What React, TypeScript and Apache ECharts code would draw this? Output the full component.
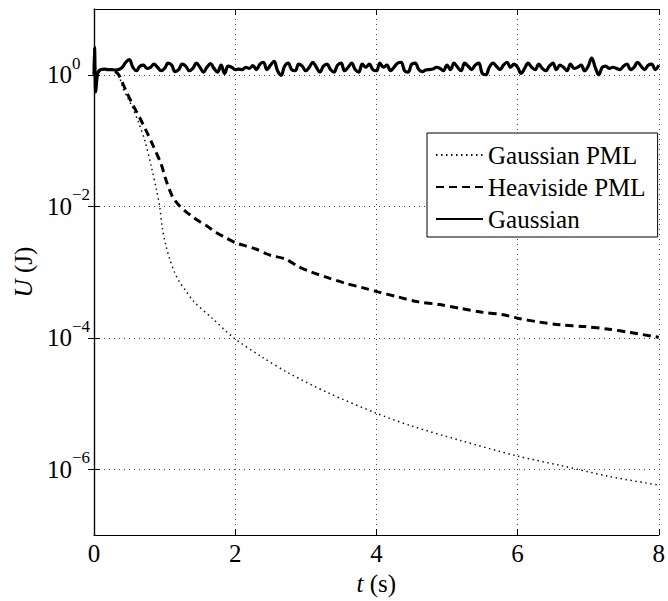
import React, { useEffect, useRef } from "react";
import * as echarts from "echarts";

const FONT = "Liberation Serif";

// x ticks and y decade ticks
const xTicks = [0, 2, 4, 6, 8];
const yTickValues = [1e-6, 1e-4, 1e-2, 1];

// Gaussian PML (dotted): [t, U]
const gaussianPML: [number, number][] = [
  [0.3, 1.12], [0.35, 1.0], [0.41, 0.62], [0.48, 0.44], [0.55, 0.31], [0.63, 0.19],
  [0.72, 0.1], [0.815, 0.039], [0.885, 0.0178], [0.93, 0.01], [0.97, 0.0045],
  [1.02, 0.0025], [1.07, 0.0016], [1.14, 0.001], [1.21, 7.1e-4], [1.3, 5.2e-4],
  [1.42, 3.5e-4], [1.67, 2.0e-4], [1.98, 1.0e-4], [2.38, 5.1e-5], [2.76, 2.9e-5],
  [3.32, 1.45e-5], [3.99, 7.2e-6], [4.49, 4.6e-6], [5.19, 2.75e-6], [5.99, 1.6e-6],
  [6.6, 1.15e-6], [7.3, 7.8e-7], [8.0, 5.75e-7],
];

// Heaviside PML (dashed): [t, U]
const heavisidePML: [number, number][] = [
  [0.3, 1.12], [0.35, 1.0], [0.46, 0.55], [0.55, 0.35], [0.65, 0.22], [0.74, 0.14],
  [0.83, 0.087], [0.95, 0.044], [1.02, 0.025], [1.07, 0.0178], [1.12, 0.0135],
  [1.2, 0.0105], [1.3, 0.0083], [1.4, 0.0069], [1.49, 0.0059], [1.6, 0.005],
  [1.73, 0.004], [1.85, 0.0034], [2.0, 0.0028], [2.15, 0.0025], [2.29, 0.00224],
  [2.5, 0.0018], [2.71, 0.00158], [2.9, 0.0012], [3.08, 0.001], [3.3, 8.3e-4],
  [3.55, 6.8e-4], [3.8, 5.8e-4], [4.02, 5.0e-4], [4.3, 4.2e-4], [4.58, 3.55e-4],
  [4.9, 3.2e-4], [5.19, 2.8e-4], [5.5, 2.45e-4], [5.8, 2.24e-4], [5.99, 2.0e-4],
  [6.3, 1.74e-4], [6.6, 1.58e-4], [6.95, 1.48e-4], [7.3, 1.35e-4], [7.6, 1.2e-4],
  [8.0, 1.02e-4],
];

// Gaussian (solid): initial transient [t, U]
const gaussianStart: [number, number][] = [
  [0, 1.0], [0.008, 2.6], [0.016, 1.0], [0.024, 0.55], [0.04, 0.85], [0.06, 1.1],
  [0.1, 1.2], [0.15, 1.22], [0.2, 1.2], [0.25, 1.2], [0.3, 1.18],
];
// Gaussian (solid): sampled every 0.05 s from t = 0.35 to 8.0
const gaussianT0 = 0.35;
const gaussianStep = 0.05;
const gaussianU: number[] = [
  1.2, 1.3, 1.55, 1.7, 1.3, 1.15, 1.35, 1.4, 1.25, 1.3, 1.45, 1.3, 1.15, 1.25, 1.5, 1.4, 1.12, 1.2, 1.45, 1.35,
  1.15, 1.25, 1.5, 1.3, 1.1, 1.3, 1.48, 1.25, 1.1, 1.4, 1.05, 1.35, 1.3, 1.2, 1.22, 1.2, 1.3, 1.25, 1.38, 1.2,
  1.45, 1.55, 1.2, 1.4, 1.6, 1.15, 0.98, 1.35, 1.5, 1.2, 1.15, 1.45, 1.35, 1.15, 1.3, 1.55, 1.3, 1.1, 1.35, 1.45,
  1.2, 1.1, 1.4, 1.5, 1.15, 1.3, 1.5, 1.2, 1.1, 1.45, 1.3, 1.45, 1.2, 1.15, 1.5, 1.3, 1.4, 1.15, 1.3, 1.5,
  1.55, 1.15, 1.1, 1.45, 1.5, 1.2, 1.12, 1.18, 1.2, 1.22, 1.3, 1.25, 1.15, 1.4, 1.2, 1.5, 1.3, 1.15, 1.5, 1.35,
  1.2, 1.4, 1.5, 1.05, 1.0, 1.3, 1.5, 1.35, 1.2, 1.4, 1.55, 1.3, 1.45, 1.3, 1.05, 1.25, 1.5, 1.3, 1.2, 1.45,
  1.25, 1.15, 1.35, 1.5, 1.2, 1.4, 1.3, 1.15, 1.45, 1.25, 1.3, 1.4, 1.15, 1.35, 1.8, 1.3, 1.0, 1.3, 1.35, 1.25,
  1.3, 1.25, 1.2, 1.35, 1.45, 1.2, 1.3, 1.55, 1.35, 1.2, 1.4, 1.45, 1.2, 1.4,
];

const legendNames = ["Gaussian PML", "Heaviside PML", "Gaussian"];

const supMap: Record<string, string> = { "-": "\u2212" };
function yLabel(v: number): string {
  const e = Math.round(Math.log10(v));
  const s = String(e).split("").map((c) => supMap[c] || c).join("");
  return `{b|10}{s|${s}}`;
}

export default function App() {
  const ref = useRef<HTMLDivElement>(null);
  useEffect(() => {
    if (!ref.current) return;
    const chart = echarts.init(ref.current, null, { renderer: "svg" });
    const gaussian: [number, number][] = gaussianStart.concat(
      gaussianU.map((u, i) => [+(gaussianT0 + i * gaussianStep).toFixed(3), u] as [number, number])
    );
    const black = "#000";
    const clear = "rgba(0,0,0,0)";
    const gridLine = { show: true, lineStyle: { color: "#444", width: 1, type: [1, 4] as any } };
    const tick = { show: true, inside: true, length: 6, lineStyle: { color: black, width: 1 } };
    const axisLine = { show: true, lineStyle: { color: black, width: 1.2 } };
    const labelStyle = { fontFamily: FONT, fontSize: 25, color: black };
    chart.setOption({
      animation: false,
      backgroundColor: "#fff",
      textStyle: { fontFamily: FONT },
      grid: { left: 94, top: 9, right: 5, bottom: 57, containLabel: false },
      legend: {
        data: legendNames,
        orient: "vertical",
        left: 427,
        top: 133,
        itemWidth: 47,
        itemHeight: 14,
        itemGap: 6,
        padding: [9, 12, 5, 8],
        backgroundColor: "#fff",
        borderColor: black,
        borderWidth: 1,
        borderRadius: 0,
        itemStyle: { color: clear, borderWidth: 0 },
        textStyle: { ...labelStyle, lineHeight: 26 },
      },
      xAxis: [
        {
          type: "value",
          min: 0,
          max: 8,
          interval: 2,
          position: "bottom",
          axisLine,
          axisTick: tick,
          axisLabel: { ...labelStyle, margin: 6 },
          splitLine: gridLine,
          name: "{i|t} (s)",
          nameLocation: "middle",
          nameGap: 33,
          nameTextStyle: {
            ...labelStyle,
            rich: { i: { fontFamily: FONT, fontSize: 25, fontStyle: "italic", color: black } },
          },
        },
        {
          type: "value",
          min: 0,
          max: 8,
          interval: 2,
          position: "top",
          axisLine,
          axisTick: tick,
          axisLabel: { show: false },
          splitLine: { show: false },
        },
      ],
      yAxis: [
        {
          type: "log",
          logBase: 10,
          min: 1e-7,
          max: 10,
          position: "left",
          axisLine,
          axisTick: { ...tick, customValues: yTickValues },
          minorTick: { show: false },
          axisLabel: {
            customValues: yTickValues,
            align: "left",
            margin: 47,
            fontFamily: FONT,
            formatter: (v: number) => yLabel(v),
            rich: {
              b: { fontFamily: FONT, fontSize: 25, color: black, lineHeight: 40, verticalAlign: "middle" },
              s: { fontFamily: FONT, fontSize: 17, color: black, lineHeight: 17, verticalAlign: "top" },
            },
          },
          splitLine: gridLine,
          name: "{i|U} (J)",
          nameLocation: "middle",
          nameGap: 55,
          nameRotate: 90,
          nameTextStyle: {
            ...labelStyle,
            rich: { i: { fontFamily: FONT, fontSize: 25, fontStyle: "italic", color: black } },
          },
        },
        {
          type: "log",
          logBase: 10,
          min: 1e-7,
          max: 10,
          position: "right",
          axisLine,
          axisTick: { ...tick, customValues: yTickValues },
          minorTick: { show: false },
          axisLabel: { show: false },
          splitLine: { show: false },
        },
      ],
      series: [
        {
          name: "Gaussian PML",
          type: "line",
          data: gaussianPML,
          symbol: "none",
          smooth: 0.3,
          lineStyle: { color: "#111", width: 1.5, type: [1.5, 3.5] },
          itemStyle: { color: clear },
        },
        {
          name: "Heaviside PML",
          type: "line",
          data: heavisidePML,
          symbol: "none",
          smooth: 0.3,
          lineStyle: { color: black, width: 3, type: [8, 5] },
          itemStyle: { color: clear },
        },
        {
          name: "Gaussian",
          type: "line",
          data: gaussian,
          symbol: "none",
          smooth: 0.4,
          lineStyle: { color: black, width: 3.2 },
          itemStyle: { color: clear },
        },
      ],
    });
    return () => chart.dispose();
  }, []);
  return (
    <div
      ref={ref}
      style={{ position: "fixed", left: 0, top: 0, width: 668, height: 601, background: "#fff" }}
    />
  );
}
